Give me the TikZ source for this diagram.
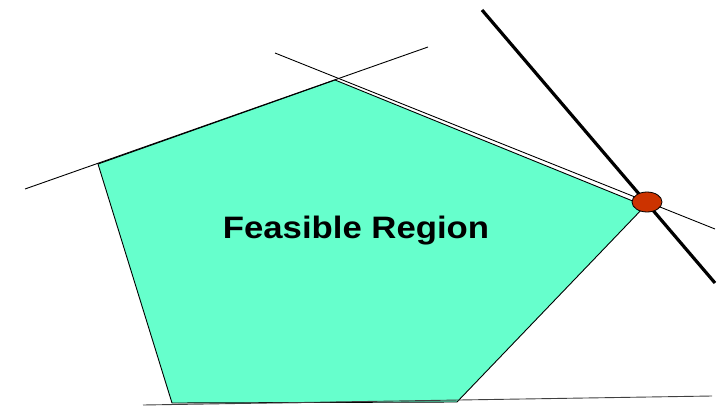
\documentclass[tikz,border=0pt]{standalone}
\usepackage{fontspec}
\newfontfamily\labelfont[FakeStretch=1.12]{Liberation Sans}
\definecolor{regionfill}{RGB}{102,255,204}
\definecolor{optdot}{RGB}{204,51,0}
\tikzset{
  constraint/.style={draw=black, line width=0.9pt},
  objective/.style={draw=black, line width=3.2pt},
  region/.style={fill=regionfill, draw=black, line width=0.9pt, line join=miter},
  optimum/.style={ellipse, fill=optdot, draw=black, line width=0.8pt,
                  minimum width=30pt, minimum height=20pt, inner sep=0pt},
}
\usetikzlibrary{shapes.geometric}
\begin{document}
\begin{tikzpicture}[x=1pt, y=-1pt]
  \useasboundingbox (0,0) rectangle (719,406);

  % polygon corners
  \coordinate (pA) at (98,164);
  \coordinate (pB) at (335,80);
  \coordinate (pC) at (645,206);
  \coordinate (pD) at (457,402);
  \coordinate (pE) at (172,403);

  % feasible region
  \draw[region] (pA) -- (pB) -- (pC) -- (pD) -- (pE) -- cycle;

  % constraint lines
  \coordinate (l1a) at (25,189);  \coordinate (l1b) at (428,47);
  \coordinate (l2a) at (275,53);  \coordinate (l2b) at (715,229);
  \coordinate (l3a) at (143,405); \coordinate (l3b) at (712,396);
  \draw[constraint] (l1a) -- (l1b);
  \draw[constraint] (l2a) -- (l2b);
  \draw[constraint, draw=black!75] (l3a) -- (l3b);

  % objective line through the optimum
  \coordinate (oa) at (482,10);
  \coordinate (ob) at (715,283);
  \draw[objective] (oa) -- (ob);

  % optimal vertex
  \node[optimum] (opt) at (647,202) {};

  % label
  \node[font=\labelfont\bfseries\fontsize{31}{31}\selectfont, inner sep=0pt]
    (lbl) at (356,231) {Feasible Region};
\end{tikzpicture}
\end{document}
